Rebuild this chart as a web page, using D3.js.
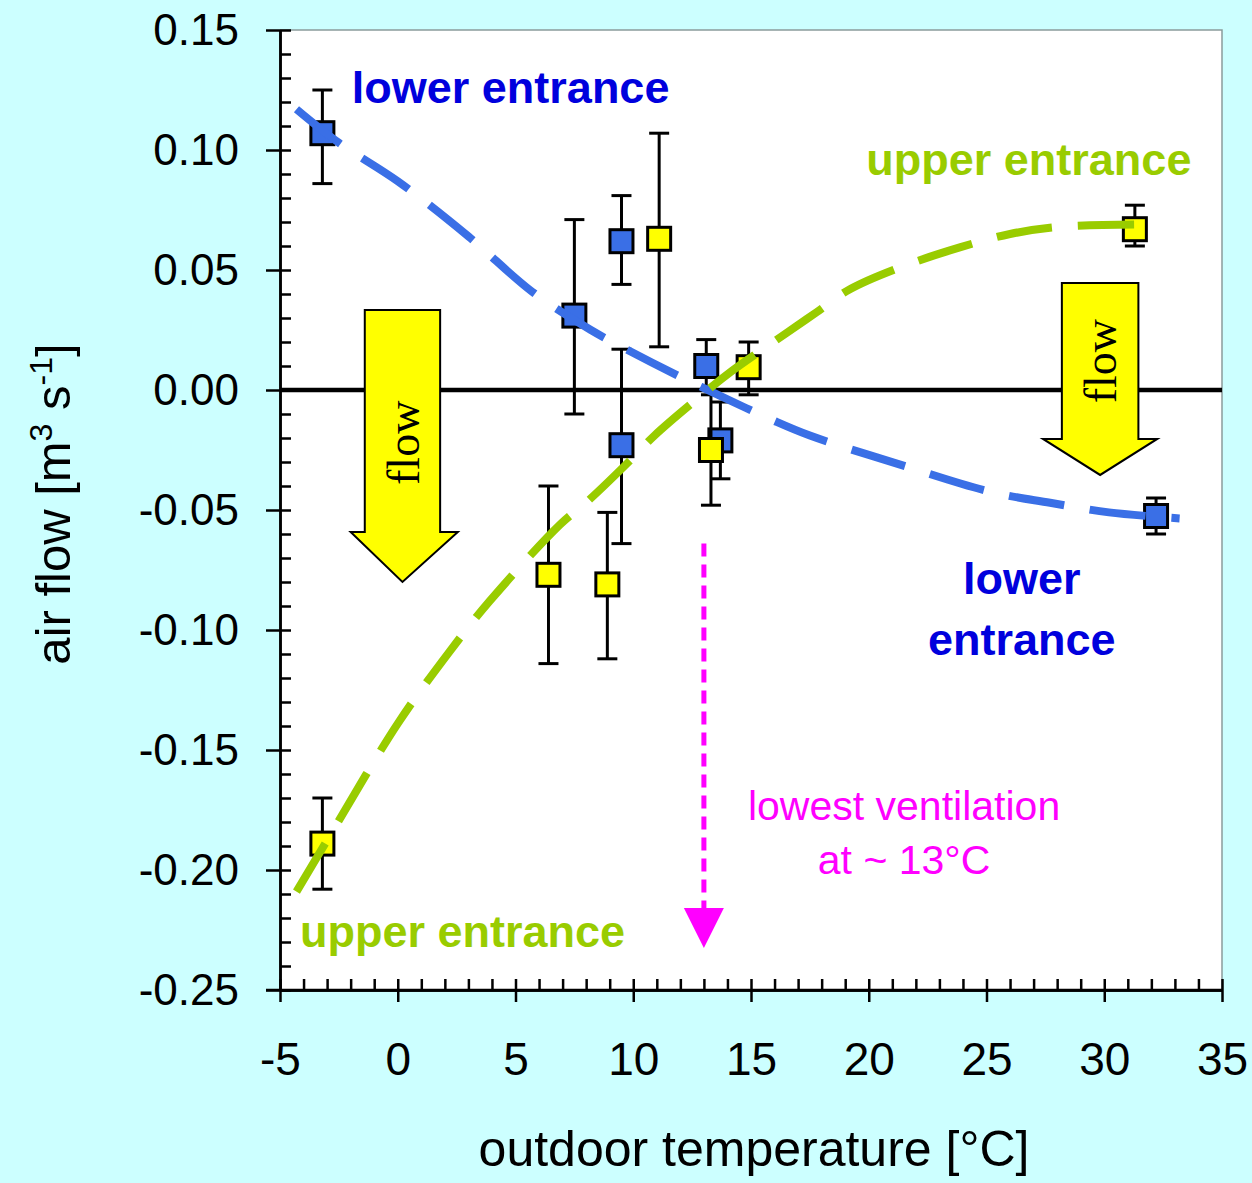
<!DOCTYPE html>
<html>
<head>
<meta charset="utf-8">
<script src="https://cdn.jsdelivr.net/npm/d3@7"></script>
<style>
  html, body { margin: 0; padding: 0; background: #ccffff; }
  svg { display: block; }
</style>
</head>
<body>
<div id="chart"></div>
<script>
// measured points: [temperature, flow, errLow, errHigh]
const lowerEntrance = [
  [-3.2, 0.107, 0.086, 0.125],
  [7.5, 0.031, -0.010, 0.071],
  [9.5, 0.062, 0.044, 0.081],
  [9.5, -0.023, -0.064, 0.017],
  [13.1, 0.010, 0.000, 0.021],
  [13.7, -0.021, -0.037, -0.005],
  [32.2, -0.0525, -0.060, -0.045]
];
const upperEntrance = [
  [-3.2, -0.189, -0.208, -0.170],
  [6.4, -0.077, -0.114, -0.040],
  [8.9, -0.081, -0.112, -0.051],
  [11.1, 0.063, 0.018, 0.107],
  [13.3, -0.025, -0.048, -0.002],
  [14.9, 0.0095, -0.002, 0.020],
  [31.3, 0.067, 0.060, 0.077]
];

// fitted curves
const lowerFit = [
  [-4.3, 0.117], [-2.5, 0.103], [0, 0.087], [3, 0.064], [5.7, 0.041], [8.2, 0.025],
  [9.7, 0.017], [12.1, 0.005], [13.6, -0.002], [15.9, -0.0125], [17.5, -0.019],
  [21.3, -0.031], [25.2, -0.0425], [27.7, -0.047], [30.2, -0.051], [33.2, -0.0535]
];
const upperFit = [
  [-4.3, -0.209], [-2.9, -0.186], [0, -0.139], [2.2, -0.109], [3.9, -0.088], [6.9, -0.056],
  [8.1, -0.046], [9.8, -0.030], [10.9, -0.019], [12.8, -0.003], [14.2, 0.008], [16.4, 0.023],
  [17.8, 0.0325], [19.2, 0.042], [21.3, 0.051], [23.9, 0.0595], [26, 0.065], [28.1, 0.068], [31.8, 0.069]
];

const xMajor = [-5, 0, 5, 10, 15, 20, 25, 30, 35];
const yMajor = [0.15, 0.10, 0.05, 0.00, -0.05, -0.10, -0.15, -0.20, -0.25];

// flow arrows in data units: shaft left/right, top, head y, head left/right, tip y
const flowArrows = [
  { x0: -1.4, x1: 1.8, top: 0.0333, headY: -0.0592, hx0: -2.0, hx1: 2.55, tip: -0.080, textY: -0.022 },
  { x0: 28.2, x1: 31.45, top: 0.0446, headY: -0.0204, hx0: 27.4, hx1: 32.25, tip: -0.0354, textY: 0.012 }
];
const minVent = { t: 13, from: -0.064, to: -0.2325 };

const width = 1252, height = 1183;
const margin = { left: 280, top: 30, right: 30, bottom: 193 };

const x = d3.scaleLinear().domain([-5, 35]).range([margin.left, width - margin.right]);
const y = d3.scaleLinear().domain([-0.25, 0.15]).range([height - margin.bottom, margin.top]);

const svg = d3.select("#chart").append("svg").attr("width", width).attr("height", height)
  .style("font-family", "'Liberation Sans', Arial, sans-serif");

// plot area
svg.append("rect")
  .attr("x", x(-5)).attr("y", y(0.15))
  .attr("width", x(35) - x(-5)).attr("height", y(-0.25) - y(0.15))
  .attr("fill", "white");
svg.append("path")
  .attr("d", `M${x(-5)},${y(0.15)}H${x(35)}V${y(-0.25)}`)
  .attr("fill", "none").attr("stroke", "#8a9c9c").attr("stroke-width", 1.5);

// zero line
svg.append("line")
  .attr("x1", x(-5)).attr("x2", x(35)).attr("y1", y(0)).attr("y2", y(0))
  .attr("stroke", "black").attr("stroke-width", 4.5);

// flow arrows
flowArrows.forEach((a) => {
  const pts = [
    [a.x0, a.top], [a.x1, a.top], [a.x1, a.headY], [a.hx1, a.headY],
    [(a.x0 + a.x1) / 2, a.tip], [a.hx0, a.headY], [a.x0, a.headY]
  ];
  svg.append("path")
    .attr("d", "M" + pts.map((p) => `${x(p[0])},${y(p[1])}`).join("L") + "Z")
    .attr("fill", "#ffff00").attr("stroke", "black").attr("stroke-width", 2);
  const cx = x((a.x0 + a.x1) / 2), cy = y(a.textY);
  svg.append("text")
    .attr("transform", `translate(${cx},${cy}) rotate(-90)`)
    .attr("text-anchor", "middle").attr("dy", "0.35em")
    .attr("font-family", "'Liberation Serif', 'Times New Roman', serif")
    .attr("font-size", 46).text("flow");
});

// error bars and markers
function drawPoints(data, fill) {
  const g = svg.append("g");
  const cap = 10, half = 11.5;
  data.forEach(([t, q, lo, hi]) => {
    g.append("line").attr("x1", x(t)).attr("x2", x(t)).attr("y1", y(lo)).attr("y2", y(hi))
      .attr("stroke", "black").attr("stroke-width", 3);
    [lo, hi].forEach((v) => {
      g.append("line").attr("x1", x(t) - cap).attr("x2", x(t) + cap).attr("y1", y(v)).attr("y2", y(v))
        .attr("stroke", "black").attr("stroke-width", 3);
    });
  });
  data.forEach(([t, q]) => {
    g.append("rect").attr("x", x(t) - half).attr("y", y(q) - half)
      .attr("width", half * 2).attr("height", half * 2)
      .attr("fill", fill).attr("stroke", "black").attr("stroke-width", 3);
  });
}
drawPoints(lowerEntrance, "#3a6fe6");
drawPoints(upperEntrance, "#ffff00");

// fitted curves
const line = d3.line().x((d) => x(d[0])).y((d) => y(d[1])).curve(d3.curveCatmullRom);
svg.append("path").datum(lowerFit).attr("d", line)
  .attr("fill", "none").attr("stroke", "#3a6fe6").attr("stroke-width", 8).attr("stroke-dasharray", "56,26");
svg.append("path").datum(upperFit).attr("d", line)
  .attr("fill", "none").attr("stroke", "#99cc00").attr("stroke-width", 8).attr("stroke-dasharray", "56,26");

// lowest ventilation arrow
svg.append("line")
  .attr("x1", x(minVent.t)).attr("x2", x(minVent.t))
  .attr("y1", y(minVent.from)).attr("y2", y(minVent.to) - 38)
  .attr("stroke", "#ff00ff").attr("stroke-width", 5).attr("stroke-dasharray", "13,8");
svg.append("path")
  .attr("d", `M${x(minVent.t) - 20},${y(minVent.to) - 40}L${x(minVent.t) + 20},${y(minVent.to) - 40}L${x(minVent.t)},${y(minVent.to)}Z`)
  .attr("fill", "#ff00ff");

// labels
const labels = [
  { text: "lower entrance", t: -1.95, q: 0.1195, anchor: "start", color: "#0000dd", bold: true },
  { text: "upper entrance", t: 26.8, q: 0.0895, anchor: "middle", color: "#99cc00", bold: true },
  { text: "lower", t: 26.5, q: -0.0850, anchor: "middle", color: "#0000dd", bold: true },
  { text: "entrance", t: 26.5, q: -0.1104, anchor: "middle", color: "#0000dd", bold: true },
  { text: "upper entrance", t: -4.15, q: -0.2321, anchor: "start", color: "#99cc00", bold: true },
  { text: "lowest ventilation", t: 21.5, q: -0.1792, anchor: "middle", color: "#ff00ff", bold: false },
  { text: "at ~ 13°C", t: 21.5, q: -0.2017, anchor: "middle", color: "#ff00ff", bold: false }
];
svg.append("g").selectAll("text").data(labels).join("text")
  .attr("x", (d) => x(d.t)).attr("y", (d) => y(d.q))
  .attr("text-anchor", (d) => d.anchor)
  .attr("fill", (d) => d.color)
  .attr("font-weight", (d) => (d.bold ? "bold" : "normal"))
  .attr("font-size", (d) => (d.bold ? 45 : 41))
  .text((d) => d.text);

// axes
const yAxisOut = svg.append("g").attr("transform", `translate(${x(-5)},0)`)
  .call(d3.axisLeft(y).tickValues(yMajor).tickSize(14).tickSizeOuter(0).tickPadding(27)
    .tickFormat((d) => d3.format(".2f")(d).replace("\u2212", "-")));
svg.append("g").attr("transform", `translate(${x(-5)},0)`)
  .call(d3.axisRight(y).tickValues(d3.range(-25, 16).map((v) => v / 100)).tickSize(11).tickSizeOuter(0).tickFormat(""));
const xAxisOut = svg.append("g").attr("transform", `translate(0,${y(-0.25)})`)
  .call(d3.axisBottom(x).tickValues(xMajor).tickSize(12).tickSizeOuter(0).tickPadding(40)
    .tickFormat((d) => String(d)));
svg.append("g").attr("transform", `translate(0,${y(-0.25)})`)
  .call(d3.axisTop(x).tickValues(d3.range(-5, 36)).tickSize(11).tickSizeOuter(0).tickFormat(""));
// extend the x axis line to the left tick
svg.append("line").attr("x1", x(-5) - 14).attr("x2", x(35)).attr("y1", y(-0.25)).attr("y2", y(-0.25))
  .attr("stroke", "black").attr("stroke-width", 2.5);

svg.selectAll(".domain, .tick line").attr("stroke", "black").attr("stroke-width", 2.5);
yAxisOut.selectAll("text").attr("font-size", 44).attr("font-family", "'Liberation Sans', Arial, sans-serif").attr("fill", "black");
xAxisOut.selectAll("text").attr("font-size", 46).attr("font-family", "'Liberation Sans', Arial, sans-serif").attr("fill", "black");

// axis titles
svg.append("text")
  .attr("x", 754).attr("y", 1166).attr("text-anchor", "middle")
  .attr("font-size", 50).text("outdoor temperature [°C]");
const yt = svg.append("text")
  .attr("transform", "translate(70,504) rotate(-90)").attr("text-anchor", "middle")
  .attr("font-size", 49);
yt.append("tspan").text("air flow [m");
yt.append("tspan").attr("baseline-shift", "super").attr("font-size", 32).text("3");
yt.append("tspan").text(" s");
yt.append("tspan").attr("baseline-shift", "super").attr("font-size", 32).text("-1");
yt.append("tspan").text("]");
</script>
</body>
</html>
